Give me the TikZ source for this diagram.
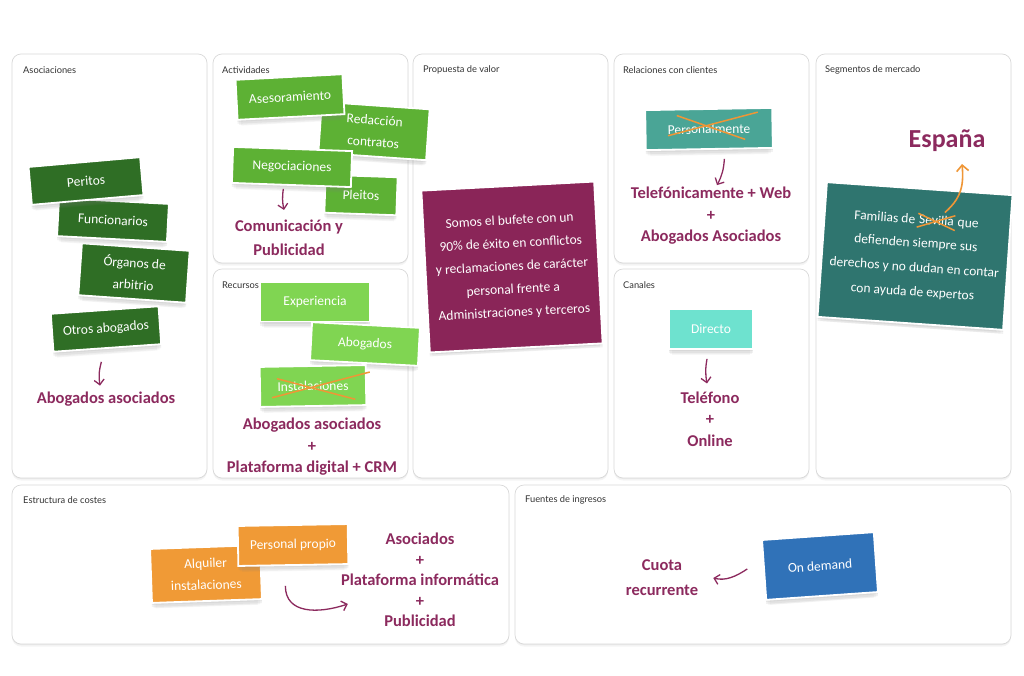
\documentclass[tikz,border=0pt]{standalone}
\usepackage{fontspec}
\setmainfont{Carlito}
\newfontfamily\ttlfont{Lato}
\usetikzlibrary{shadows,arrows.meta,calc}
\definecolor{plum}{HTML}{8C2A5E}
\definecolor{dkgreen}{HTML}{2F6E25}
\definecolor{midgreen}{HTML}{5DB134}
\definecolor{ltgreen}{HTML}{80D552}
\definecolor{notepl}{HTML}{8A2558}
\definecolor{tealone}{HTML}{4AA596}
\definecolor{turq}{HTML}{6EE2CF}
\definecolor{dkteal}{HTML}{2F756F}
\definecolor{orng}{HTML}{F09A36}
\definecolor{blu}{HTML}{3072B8}
\definecolor{xorange}{HTML}{EF9636}
\begin{document}
\begin{tikzpicture}[x=1pt,y=-1pt,
  panel/.style={draw=black!15, line width=0.7pt, fill=white, rounded corners=9pt,
    drop shadow={opacity=0.08, shadow xshift=0pt, shadow yshift=-1pt},
    drop shadow={opacity=0.08, shadow xshift=0pt, shadow yshift=-2.5pt}},
  ptitle/.style={anchor=west, inner sep=0pt, font=\ttlfont\fontsize{9.3}{11}\selectfont, text=black!80},
  note/.style={draw=white, line width=1.8pt, text=white, align=center, inner sep=2pt,
    font=\fontsize{13.5}{22}\selectfont,
    drop shadow={opacity=0.10, shadow xshift=0pt, shadow yshift=-2pt},
    drop shadow={opacity=0.10, shadow xshift=0pt, shadow yshift=-4pt},
    drop shadow={opacity=0.08, shadow xshift=0pt, shadow yshift=-6pt, shadow scale=0.97},
    drop shadow={opacity=0.06, shadow xshift=0pt, shadow yshift=-8pt, shadow scale=0.93}},
  ntext/.style={text=white, inner sep=0pt, font=\fontsize{13.5}{22}\selectfont},
  hand/.style={text=plum, align=center, inner sep=1pt, font=\bfseries\fontsize{16.5}{21.5}\selectfont},
  harrow/.style={draw=plum, line width=1.3pt, -{Straight Barb[length=5pt,width=10pt]}},
  oarrow/.style={draw=xorange, line width=1.6pt, -{Straight Barb[length=6pt,width=12pt]}},
  xline/.style={draw=xorange, line width=1.5pt},
]
\useasboundingbox (0,0) rectangle (1024,675);
\fill[white] (0,0) rectangle (1024,675);

% panels
\draw[panel] (12,54) rectangle (207,478);
\draw[panel] (213,54) rectangle (408,263);
\draw[panel] (213,269) rectangle (408,478);
\draw[panel] (413,54) rectangle (608,478);
\draw[panel] (614,54) rectangle (809,263);
\draw[panel] (614,269) rectangle (809,478);
\draw[panel] (816,54) rectangle (1011,478);
\draw[panel] (12,485) rectangle (509,644);
\draw[panel] (515,485) rectangle (1011,644);

\node[ptitle] (t1) at (23,70) {Asociaciones};
\node[ptitle] (t2) at (222,70) {Actividades};
\node[ptitle] (t3) at (222,285) {Recursos};
\node[ptitle] (t4) at (423,70) {Propuesta de valor};
\node[ptitle] (t5) at (623,70) {Relaciones con clientes};
\node[ptitle] (t6) at (623,285) {Canales};
\node[ptitle] (t7) at (825,70) {Segmentos de mercado};
\node[ptitle] (t8) at (23,500) {Estructura de costes};
\node[ptitle] (t9) at (525,500) {Fuentes de ingresos};

% Asociaciones
\node[note, fill=dkgreen, minimum width=108pt, minimum height=52pt, rotate=-4] (organos) at (134,273) {Órganos de\\arbitrio};
\node[note, fill=dkgreen, minimum width=108pt, minimum height=38pt, rotate=4] (otros) at (106,329) {Otros abogados};
\node[note, fill=dkgreen, minimum width=110pt, minimum height=38pt, rotate=-3] (func) at (113,220) {Funcionarios};
\node[note, fill=dkgreen, minimum width=112pt, minimum height=38pt, rotate=5] (peritos) at (86,181) {Peritos};
\node[hand] (abasoc) at (106,399) {Abogados asociados};
\draw[harrow] ($(otros.south)+(-6,13)$) to[bend right=12] ($(abasoc.north)+(-6,-5)$);

% Actividades
\node[note, fill=midgreen, minimum width=72pt, minimum height=38pt, rotate=-2] (pleitos) at (361,195) {Pleitos};
\node[note, fill=midgreen, minimum width=108pt, minimum height=51pt, rotate=-4] (redac) at (374,131) {Redacción\\contratos};
\node[note, fill=midgreen, minimum width=107pt, minimum height=40pt, rotate=3] (aseso) at (290,97) {Asesoramiento};
\node[note, fill=midgreen, minimum width=119pt, minimum height=36pt, rotate=-2] (negoc) at (292,167) {Negociaciones};
\node[hand, font=\bfseries\fontsize{16.5}{24}\selectfont] (comun) at (289,238) {Comunicación y\\Publicidad};
\draw[harrow] ($(negoc.south)+(-8,3)$) to[bend right=10] ($(comun.north)+(-5,-9)$);

% Recursos
\node[note, fill=ltgreen, minimum width=110pt, minimum height=39pt] (exper) at (315,302) {Experiencia};
\node[note, fill=ltgreen, minimum width=108pt, minimum height=38pt, rotate=-3] (abog) at (365,344) {Abogados};
\begin{scope}[shift={(313,386)}, rotate=1]
  \node[note, fill=ltgreen, minimum width=106pt, minimum height=40pt, transform shape] (instal) at (0,0) {Instalaciones};
  \draw[xline] (-41,11) -- (57,-13) (-36,-8) -- (42,14);
\end{scope}
\node[hand] (rectext) at (312,447) {Abogados asociados\\+\\Plataforma digital + CRM};

% Propuesta de valor
\node[note, fill=notepl, minimum width=173pt, minimum height=162pt, rotate=3,
  font=\fontsize{13.5}{23}\selectfont] (prop) at (512,267)
  {Somos el bufete con un\\90\% de éxito en conflictos\\y reclamaciones de carácter\\personal frente a\\Administraciones y terceros};

% Relaciones con clientes
\begin{scope}[shift={(709,129)}, rotate=1]
  \node[note, fill=tealone, minimum width=127pt, minimum height=40pt, transform shape] (perso) at (0,0) {Personalmente};
  \draw[xline] (-41,6) -- (49,-16) (-32,-14) -- (36,11);
\end{scope}
\node[hand] (telef) at (711,216) {Telefónicamente + Web\\+\\Abogados Asociados};
\draw[harrow] ($(perso.south)+(15,9)$) to[bend left=12] ($(telef.north)+(6,-1)$);

% Canales
\node[note, fill=turq, minimum width=84pt, minimum height=40pt] (direc) at (711,329) {Directo};
\node[hand] (telon) at (710,419) {Teléfono\\+\\Online};
\draw[harrow] ($(direc.south)+(-4,9)$) to[bend right=10] ($(telon.north)+(-3,-7)$);

% Segmentos de mercado
\node[hand, font=\bfseries\fontsize{26}{30}\selectfont] (espana) at (947,141) {España};
\begin{scope}[shift={(915,256)}, rotate=-4]
  \node[note, fill=dkteal, minimum width=186pt, minimum height=135pt, transform shape] (segm) at (0,0) {};
  \node[ntext, transform shape] (sev) at (19,-37) {Sevilla};
  \node[ntext, transform shape, anchor=base east] (fam) at (sev.base west) {Familias de\kern3.5pt};
  \node[ntext, transform shape, anchor=base west] (que) at (sev.base east) {\kern3.5pt que};
  \node[ntext, transform shape] (l2) at (0,-12.5) {defienden siempre sus};
  \node[ntext, transform shape] (l3) at (0,12) {derechos y no dudan en contar};
  \node[ntext, transform shape] (l4) at (0,36.5) {con ayuda de expertos};
\end{scope}
\draw[xline] ($(sev.south west)+(-2,3)$) -- ($(sev.north east)+(1,-1)$)
             ($(sev.north west)+(-1,-1)$) -- ($(sev.south east)+(1,4)$);
\coordinate (espend) at (962,164);
\draw[oarrow] ($(sev.north)+(8,-3)$) .. controls +(16,-14) and +(2,22) .. (espend);

% Estructura de costes
\node[note, fill=orng, minimum width=110pt, minimum height=54pt, rotate=2] (alqu) at (206,574) {Alquiler\\instalaciones};
\node[note, fill=orng, minimum width=110pt, minimum height=40pt, rotate=1] (perpro) at (293,545) {Personal propio};
\node[hand, font=\bfseries\fontsize{16.5}{20.5}\selectfont] (costtxt) at (420,580) {Asociados\\+\\Plataforma informática\\+\\Publicidad};
\draw[harrow] ($(perpro.south)+(-8,20)$) .. controls +(0,28) and +(-30,10) .. ($(costtxt.west)+(8,24)$);

% Fuentes de ingresos
\node[note, fill=blu, minimum width=112pt, minimum height=60pt, rotate=4] (ondem) at (820,566) {On demand};
\node[hand, font=\bfseries\fontsize{16.5}{25}\selectfont] (cuota) at (662,578) {Cuota\\recurrente};
\draw[harrow] ($(ondem.west)+(-16,-1)$) .. controls +(-12,8) and +(12,3) .. ($(cuota.east)+(14,0)$);
\end{tikzpicture}
\end{document}
